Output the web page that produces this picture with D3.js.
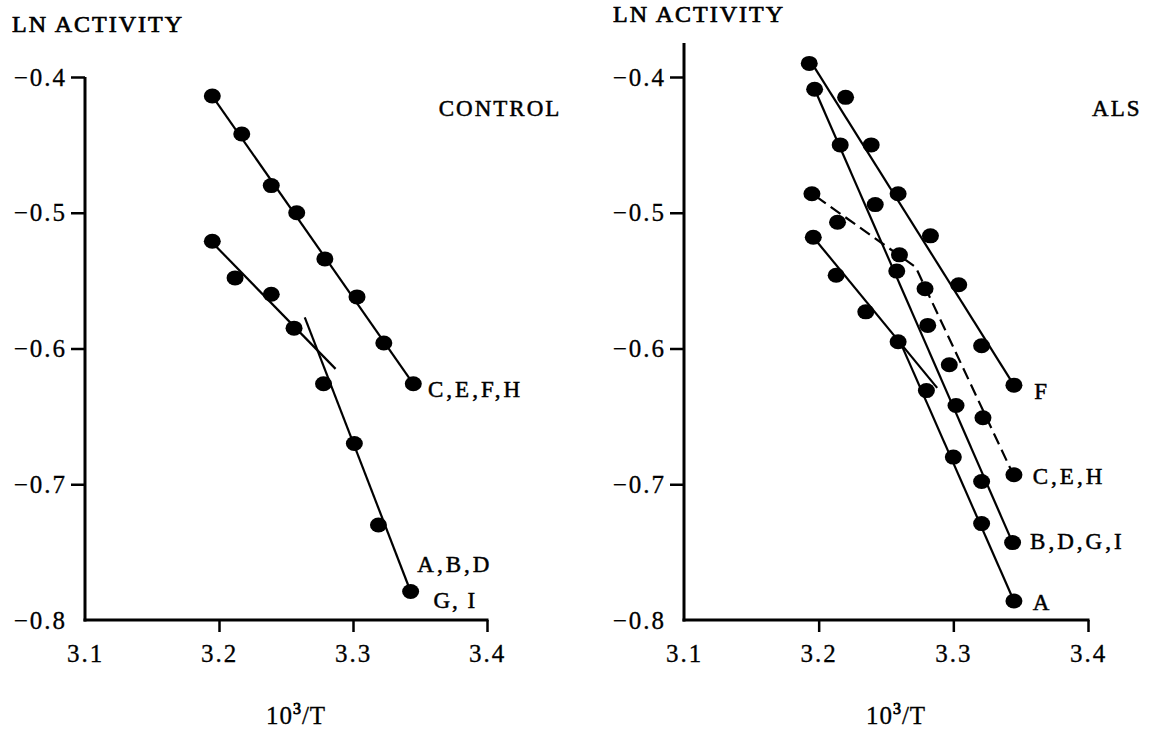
<!DOCTYPE html>
<html>
<head>
<meta charset="utf-8">
<script src="https://cdn.jsdelivr.net/npm/d3@7/dist/d3.min.js"></script>
<style>
  html, body { margin: 0; padding: 0; background: #fff; }
  svg text { font-family: "Liberation Serif", "Times New Roman", serif; fill: #000; }
</style>
</head>
<body>
<svg id="chart" width="1149" height="730"></svg>
<script>
// ---- data ----
var xTicks = [3.1, 3.2, 3.3, 3.4];
var yTicks = [-0.4, -0.5, -0.6, -0.7, -0.8];

// CONTROL panel
var ctrlUpperX = [3.195, 3.217, 3.239, 3.258, 3.279, 3.303, 3.323, 3.345];
var ctrlUpperY = [-0.414, -0.442, -0.480, -0.500, -0.534, -0.562, -0.596, -0.626];
var ctrlLowerX = [3.195, 3.212, 3.239, 3.256, 3.278, 3.301, 3.319, 3.343];
var ctrlLowerY = [-0.521, -0.548, -0.560, -0.585, -0.626, -0.670, -0.730, -0.779];
// fitted lines (x, y pairs)
var ctrlUpperFit = [[3.195, -0.414], [3.345, -0.626]];
var ctrlLowerFit1 = [[3.196, -0.523], [3.287, -0.615]];
var ctrlLowerFit2 = [[3.264, -0.577], [3.343, -0.779]];

// ALS panel
var alsFX = [3.193, 3.220, 3.239, 3.259, 3.283, 3.304, 3.321, 3.345];
var alsFY = [-0.390, -0.415, -0.450, -0.486, -0.517, -0.553, -0.598, -0.627];
var alsBX = [3.197, 3.216, 3.242, 3.258, 3.281, 3.302, 3.321, 3.344];
var alsBY = [-0.409, -0.450, -0.494, -0.543, -0.583, -0.642, -0.698, -0.743];
var alsCX = [3.195, 3.214, 3.260, 3.279, 3.297, 3.322, 3.345];
var alsCY = [-0.486, -0.507, -0.531, -0.556, -0.612, -0.651, -0.693];
var alsAX = [3.196, 3.213, 3.235, 3.259, 3.280, 3.300, 3.321, 3.345];
var alsAY = [-0.518, -0.546, -0.573, -0.595, -0.631, -0.680, -0.729, -0.786];
var alsFFit = [[3.195, -0.390], [3.345, -0.627]];
var alsBFit = [[3.197, -0.409], [3.344, -0.743]];
var alsCFit = [[3.198, -0.488], [3.272, -0.540], [3.345, -0.694]];
var alsAFit1 = [[3.196, -0.518], [3.288, -0.629]];
var alsAFit2 = [[3.260, -0.594], [3.345, -0.786]];

var svg = d3.select('#chart');

function zip(xs, ys) {
    return xs.map(function (x, i) { return [x, ys[i]]; });
}

/**
 * draws one panel
 * @param {object} cfg - pixel frame, series and labels
 */
function drawPanel(cfg) {
    var x = d3.scaleLinear().domain([3.1, 3.4]).range([cfg.left, cfg.right]),
        y = d3.scaleLinear().domain([-0.8, -0.4]).range([620, 77]),
        g = svg.append('g');

    // y axis line (right panel runs a bit above -0.4)
    g.append('line')
        .attr('x1', x(3.1)).attr('x2', x(3.1))
        .attr('y1', y(cfg.yTop)).attr('y2', y(-0.8) + 1.5)
        .attr('stroke', '#000').attr('stroke-width', 3);
    // x axis line
    g.append('line')
        .attr('x1', x(3.1) - 1.5).attr('x2', x(3.4) + 1.5)
        .attr('y1', y(-0.8)).attr('y2', y(-0.8))
        .attr('stroke', '#000').attr('stroke-width', 3);

    var yAxis = g.append('g')
        .attr('transform', 'translate(' + x(3.1) + ',0)')
        .call(d3.axisLeft(y).tickValues(yTicks).tickSize(14).tickPadding(4)
            .tickFormat(function (d) { return '\u2212' + Math.abs(d).toFixed(1); }));
    yAxis.select('.domain').remove();
    yAxis.selectAll('line').attr('stroke', '#000').attr('stroke-width', 2.5)
        .filter(function (d) { return d === -0.8; }).remove();
    yAxis.selectAll('text').style('font-size', '25px').attr('font-family', null)
        .style('letter-spacing', '2px')
        .attr('stroke', '#000').attr('stroke-width', 0.3);

    var xAxis = g.append('g')
        .attr('transform', 'translate(0,' + y(-0.8) + ')')
        .call(d3.axisBottom(x).tickValues(xTicks).tickSize(12)
            .tickFormat(d3.format('.1f')));
    xAxis.select('.domain').remove();
    xAxis.selectAll('line').attr('stroke', '#000').attr('stroke-width', 2.5)
        .filter(function (d) { return d === 3.1; }).remove();
    xAxis.selectAll('text').style('font-size', '25px').attr('font-family', null)
        .style('letter-spacing', '2px')
        .attr('stroke', '#000').attr('stroke-width', 0.3)
        .attr('y', 42).attr('dy', 0);

    // fitted lines
    var line = d3.line().x(function (d) { return x(d[0]); }).y(function (d) { return y(d[1]); });
    cfg.fits.forEach(function (f) {
        g.append('path')
            .attr('d', line(f.pts))
            .attr('fill', 'none')
            .attr('stroke', '#000')
            .attr('stroke-width', 2.2)
            .attr('stroke-dasharray', f.dash || null);
    });

    // points
    cfg.series.forEach(function (s) {
        g.selectAll(null)
            .data(s)
            .enter().append('ellipse')
            .attr('cx', function (d) { return x(d[0]); })
            .attr('cy', function (d) { return y(d[1]); })
            .attr('rx', 8.5)
            .attr('ry', 7.5)
            .attr('fill', '#000');
    });

    // series labels
    cfg.labels.forEach(function (l) {
        g.append('text')
            .attr('x', x(l.x)).attr('y', y(l.y)).attr('dy', '0.35em')
            .style('font-size', l.size + 'px')
            .style('letter-spacing', l.ls + 'px')
            .attr('stroke', '#000').attr('stroke-width', 0.5)
            .text(l.text);
    });

    // axis titles
    g.append('text')
        .attr('x', cfg.titleX).attr('y', cfg.titleY)
        .style('font-size', '24px').style('letter-spacing', '2px')
        .attr('stroke', '#000').attr('stroke-width', 0.7)
        .text('LN ACTIVITY');

    var xt = g.append('text')
        .attr('x', cfg.xTitleX).attr('y', 724)
        .attr('text-anchor', 'middle')
        .style('font-size', '25px').style('letter-spacing', '1px')
        .attr('stroke', '#000').attr('stroke-width', 0.3);
    xt.append('tspan').text('10');
    xt.append('tspan').attr('dy', -10).style('font-size', '16px')
        .attr('stroke-width', 0.8).text('3');
    xt.append('tspan').attr('dy', 10).text('/T');
}

drawPanel({
    left: 85, right: 487, yTop: -0.4,
    titleX: 12, titleY: 32, xTitleX: 296,
    fits: [{pts: ctrlUpperFit}, {pts: ctrlLowerFit1}, {pts: ctrlLowerFit2}],
    series: [zip(ctrlUpperX, ctrlUpperY), zip(ctrlLowerX, ctrlLowerY)],
    labels: [
        {text: 'CONTROL', x: 3.364, y: -0.423, size: 23, ls: 2},
        {text: 'C,E,F,H', x: 3.356, y: -0.630, size: 23, ls: 3},
        {text: 'A,B,D', x: 3.348, y: -0.759, size: 23, ls: 3},
        {text: 'G, I', x: 3.360, y: -0.785, size: 23, ls: 2}
    ]
});

drawPanel({
    left: 684, right: 1088, yTop: -0.375,
    titleX: 613, titleY: 22, xTitleX: 896,
    fits: [{pts: alsFFit}, {pts: alsBFit}, {pts: alsCFit, dash: '12,6'},
        {pts: alsAFit1}, {pts: alsAFit2}],
    series: [zip(alsFX, alsFY), zip(alsBX, alsBY), zip(alsCX, alsCY), zip(alsAX, alsAY)],
    labels: [
        {text: 'ALS', x: 3.403, y: -0.423, size: 23, ls: 2},
        {text: 'F', x: 3.360, y: -0.631, size: 23, ls: 3},
        {text: 'C,E,H', x: 3.359, y: -0.694, size: 23, ls: 3},
        {text: 'B,D,G,I', x: 3.357, y: -0.742, size: 23, ls: 3},
        {text: 'A', x: 3.359, y: -0.787, size: 23, ls: 3}
    ]
});
</script>
</body>
</html>
